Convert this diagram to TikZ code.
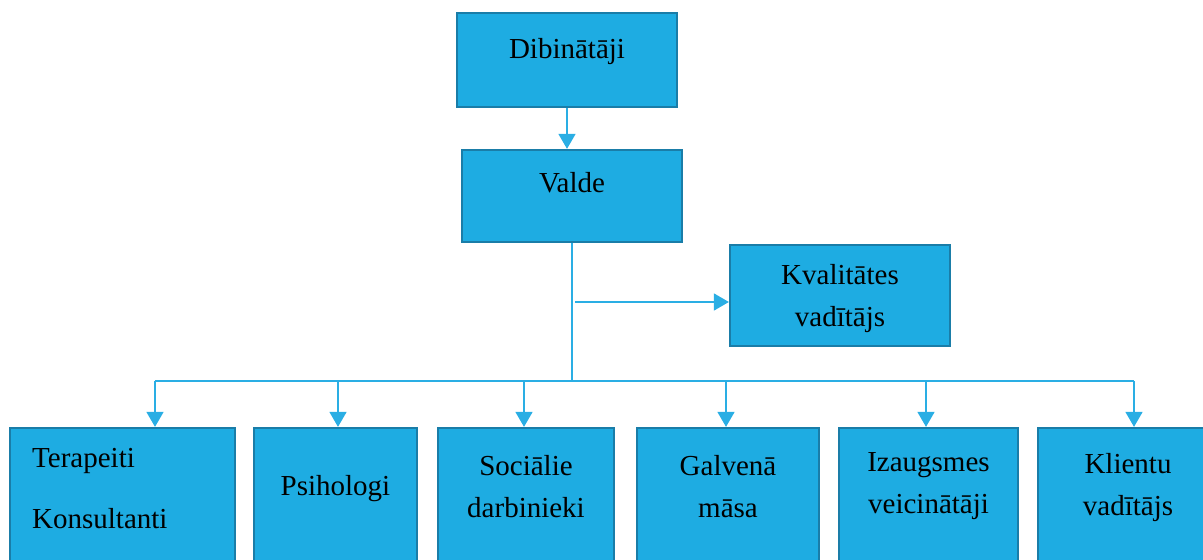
\documentclass[tikz,border=0pt]{standalone}
\usepackage{fontspec}
\setmainfont{Liberation Serif}
\usetikzlibrary{positioning,arrows.meta}

\definecolor{boxfill}{HTML}{1EACE2}
\definecolor{boxline}{HTML}{1A7DA8}
\definecolor{linkline}{HTML}{2AAEE4}

\tikzset{
  unit/.style={rectangle, draw=boxline, line width=1.3pt, fill=boxfill, inner sep=0pt},
  boxtext/.style={inner sep=0pt, align=center, font=\fontsize{16.5}{23.8}\selectfont},
  link/.style={draw=linkline, line width=0.85pt},
  linkarrow/.style={link, -{Triangle[width=0.34cm,length=0.3cm]}},
}

\begin{document}
\begin{tikzpicture}[x=0.02cm,y=-0.02cm]
\useasboundingbox (0,0) rectangle (1203,560);
\clip (0,0) rectangle (1203,560);

% Top levels
\node[unit, minimum width=4.4cm, minimum height=1.88cm] (dib) at (567,60) {};
\node[boxtext, below=0.52cm of dib.north] {Dibinātāji};

\node[unit, minimum width=4.4cm, minimum height=1.84cm] (val) at (572,196) {};
\node[boxtext, below=0.46cm of val.north] {Valde};

\node[unit, minimum width=4.4cm, minimum height=2.02cm] (kval) at (840,295.5) {};
\node[boxtext, below=0.40cm of kval.north] {Kvalitātes\\vadītājs};

% Bottom row
\node[unit, minimum width=4.5cm, minimum height=3cm] (b1) at (122.5,503) {};
\node[unit, minimum width=3.26cm, minimum height=3cm] (b2) at (335.5,503) {};
\node[unit, minimum width=3.52cm, minimum height=3cm] (b3) at (526,503) {};
\node[unit, minimum width=3.64cm, minimum height=3cm] (b4) at (728,503) {};
\node[unit, minimum width=3.58cm, minimum height=3cm] (b5) at (928.5,503) {};
\node[unit, minimum width=3.6cm, minimum height=3cm] (b6) at (1128,503) {};

\node[boxtext, align=left, anchor=north west] at ([xshift=0.46cm,yshift=-0.42cm]b1.north west) {Terapeiti\\[11pt]Konsultanti};
\node[boxtext, below=0.96cm of b2.north] {Psihologi};
\node[boxtext, below=0.56cm of b3.north] {Sociālie\\darbinieki};
\node[boxtext, below=0.56cm of b4.north] {Galvenā\\māsa};
\node[boxtext, below=0.50cm of b5.north] {Izaugsmes\\veicinātāji};
\node[boxtext, below=0.52cm of b6.north] {Klientu\\vadītājs};

% Connectors
\draw[linkarrow] (dib) -- (dib |- val.north);
\coordinate (hub) at (572,381);
\draw[link] (val) -- (hub);
\coordinate (kin) at (575,302);
\draw[linkarrow] (kin) -- (kin -| kval.west);

\coordinate (busL) at (155,381);
\coordinate (busR) at (1134,381);
\draw[link] (busL) -- (busR);
\foreach \x/\b in {155/b1,338/b2,524/b3,726/b4,926/b5,1134/b6}{
  \coordinate (d\b) at (\x,381);
  \draw[linkarrow] (d\b) -- (d\b |- \b.north);
}
\end{tikzpicture}
\end{document}
